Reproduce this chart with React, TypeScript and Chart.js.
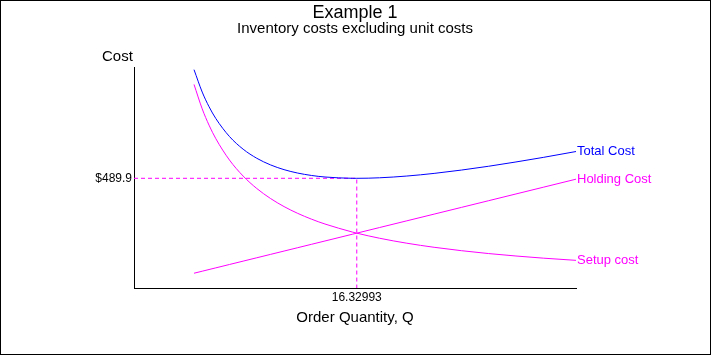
import React, { useEffect, useRef } from "react";
import { Chart, registerables } from "chart.js";

Chart.register(...registerables);

// ---- Data ----
const orderQuantity = [4.4, 5, 5.5, 6, 7, 8, 9, 10, 11, 12, 13, 14, 16, 16.33, 18, 20, 22, 24, 26, 28, 30, 32.4];
const setupCost = [909.1, 800, 727.3, 666.7, 571.4, 500, 444.4, 400, 363.6, 333.3, 307.7, 285.7, 250, 244.9, 222.2, 200, 181.8, 166.7, 153.8, 142.9, 133.3, 123.5];
const holdingCost = [66, 75, 82.5, 90, 105, 120, 135, 150, 165, 180, 195, 210, 240, 245, 270, 300, 330, 360, 390, 420, 450, 486];
const totalCost = [975.1, 875, 809.8, 756.7, 676.4, 620, 579.4, 550, 528.6, 513.3, 502.7, 495.7, 490, 489.9, 492.2, 500, 511.8, 526.7, 543.8, 562.9, 583.3, 609.5];
const seriesLabels = ["Total Cost", "Holding Cost", "Setup cost"];
const optimalQ = 16.32993;
const minTotalCost = 489.9;
const xTickLabels = ["16.32993"];
const yTickLabels = ["$489.9"];
const titleText = "Example 1";
const subtitleText = "Inventory costs excluding unit costs";
const yAxisTitle = "Cost";
const xAxisTitle = "Order Quantity, Q";

const FONT = "'Liberation Sans', Arial, sans-serif";
const BLUE = "#0000ff";
const MAGENTA = "#ff00ff";

const toPoints = (ys: number[]) => orderQuantity.map((x, i) => ({ x, y: ys[i] }));

export default function App() {
  const ref = useRef<HTMLCanvasElement | null>(null);

  useEffect(() => {
    if (!ref.current) return;

    const decorations = {
      id: "decorations",
      afterDraw(chart: any) {
        const { ctx, chartArea } = chart;
        ctx.save();
        // outer frame
        ctx.strokeStyle = "#000";
        ctx.lineWidth = 1;
        ctx.strokeRect(0.5, 0.5, 710, 354);
        ctx.fillStyle = "#000";
        ctx.textBaseline = "alphabetic";
        ctx.textAlign = "center";
        ctx.font = `18px ${FONT}`;
        ctx.fillText(titleText, 355, 18);
        ctx.font = `15px ${FONT}`;
        ctx.fillText(subtitleText, 355, 33);
        ctx.fillText(xAxisTitle, (chartArea.left + chartArea.right) / 2, 322);
        ctx.textAlign = "left";
        ctx.fillText(yAxisTitle, 102, 61);
        // series end labels
        ctx.font = `13px ${FONT}`;
        ctx.textBaseline = "middle";
        for (let i = 0; i < seriesLabels.length; i++) {
          const meta = chart.getDatasetMeta(i);
          const last = meta.data[meta.data.length - 1];
          ctx.fillStyle = chart.data.datasets[i].borderColor;
          ctx.fillText(seriesLabels[i], last.x + 1, last.y);
        }
        ctx.restore();
      },
    };

    const chart = new Chart(ref.current, {
      type: "line",
      data: {
        datasets: [
          { label: seriesLabels[0], data: toPoints(totalCost), borderColor: BLUE },
          { label: seriesLabels[1], data: toPoints(holdingCost), borderColor: MAGENTA },
          { label: seriesLabels[2], data: toPoints(setupCost), borderColor: MAGENTA },
          {
            label: "optimum",
            data: [
              { x: 0, y: minTotalCost },
              { x: optimalQ, y: minTotalCost },
              { x: optimalQ, y: 0 },
            ],
            borderColor: MAGENTA,
            borderDash: [4, 3],
            cubicInterpolationMode: "default",
            tension: 0,
          },
        ],
      },
      options: {
        animation: false,
        responsive: false,
        devicePixelRatio: 1,
        layout: { padding: { left: 0, top: 67, right: 135, bottom: 0 } },
        elements: {
          point: { radius: 0, hoverRadius: 0 },
          line: { borderWidth: 1, fill: false, cubicInterpolationMode: "monotone" },
        },
        plugins: {
          legend: { display: false },
          title: { display: false },
          tooltip: { enabled: false },
        },
        scales: {
          x: {
            type: "linear",
            min: 0,
            max: 32.4,
            grid: { display: false, drawTicks: false },
            border: { display: true, color: "#000", width: 1 },
            afterBuildTicks: (scale: any) => {
              scale.ticks = [{ value: optimalQ }];
            },
            afterFit: (scale: any) => {
              scale.height = 67;
            },
            ticks: {
              autoSkip: false,
              maxRotation: 0,
              padding: 2,
              color: "#000",
              font: { family: FONT, size: 12 },
              callback: () => xTickLabels[0],
            },
          },
          y: {
            type: "linear",
            min: 0,
            max: 987,
            grid: { display: false, drawTicks: false },
            border: { display: true, color: "#000", width: 1 },
            afterBuildTicks: (scale: any) => {
              scale.ticks = [{ value: minTotalCost }];
            },
            afterFit: (scale: any) => {
              scale.width = 134;
            },
            ticks: {
              autoSkip: false,
              padding: 2,
              color: "#000",
              font: { family: FONT, size: 12 },
              callback: () => yTickLabels[0],
            },
          },
        },
      },
      plugins: [decorations],
    } as any);

    return () => chart.destroy();
  }, []);

  return (
    <div style={{ position: "absolute", left: 0, top: 0, width: 711, height: 355, background: "#fff" }}>
      <canvas ref={ref} width={711} height={355} style={{ display: "block" }} />
    </div>
  );
}
